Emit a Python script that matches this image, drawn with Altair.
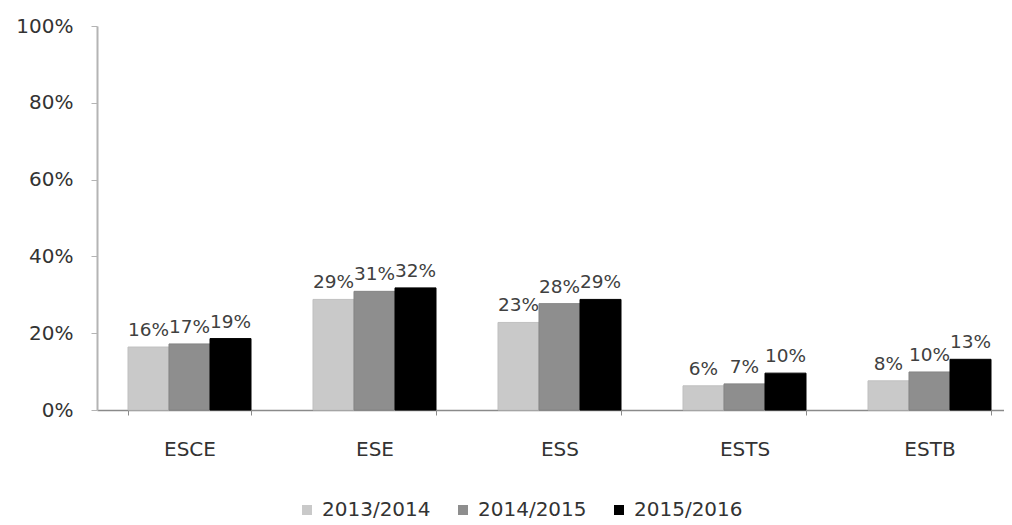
import altair as alt
import pandas as pd

groups = ["ESCE", "ESE", "ESS", "ESTS", "ESTB"]
years = ["2013/2014", "2014/2015", "2015/2016"]
v_2013 = [0.164, 0.288, 0.228, 0.063, 0.076]
v_2014 = [0.172, 0.309, 0.277, 0.068, 0.099]
v_2015 = [0.186, 0.318, 0.288, 0.096, 0.132]
colors = ["#c9c9c9", "#8e8e8e", "#000000"]

rows = []
for yr, vals in zip(years, [v_2013, v_2014, v_2015]):
    for g, v in zip(groups, vals):
        rows.append({"school": g, "year": yr, "value": v})
df = pd.DataFrame(rows)

FONT = "DejaVu Sans"

x = alt.X("school:N", sort=groups, title=None,
          scale=alt.Scale(range=[0, 925], paddingInner=0.335, paddingOuter=0.1675),
          axis=alt.Axis(labelAngle=0, tickBand="extent", tickSize=5, tickColor="#8a8a8a",
                        domainColor="#8a8a8a", domainWidth=1.5, labelPadding=24,
                        labelFontSize=20, labelFont=FONT, labelColor="#333333"))
y = alt.Y("value:Q", title=None,
          scale=alt.Scale(domain=[0, 1], nice=False),
          axis=alt.Axis(format=".0%", values=[0, 0.2, 0.4, 0.6, 0.8, 1.0], grid=False,
                        tickSize=6, tickColor="#b4b4b4", domainColor="#b4b4b4",
                        domainWidth=2, labelPadding=18, labelFontSize=20, labelFont=FONT,
                        labelColor="#333333"))
xo = alt.XOffset("year:N", sort=years, scale=alt.Scale(paddingInner=0, paddingOuter=0))

bars = alt.Chart(df).mark_bar(strokeWidth=1).encode(
    x=x, y=y, xOffset=xo,
    color=alt.Color("year:N", sort=years, scale=alt.Scale(domain=years, range=colors),
                    legend=alt.Legend(title=None, orient="none", direction="horizontal",
                                      legendX=200, legendY=474, symbolType="square",
                                      symbolSize=100, symbolStrokeWidth=0,
                                      labelFontSize=20, labelFont=FONT, labelColor="#333333",
                                      labelOffset=5, columnPadding=22)),
    stroke=alt.Stroke("year:N", sort=years,
                      scale=alt.Scale(domain=years, range=["#c0c0c0", "#858585", "#000000"]),
                      legend=None),
)

labels = alt.Chart(df).mark_text(baseline="bottom", dy=-7, fontSize=18.5, font=FONT,
                                 color="#404040").encode(
    x=alt.X("school:N", sort=groups), y="value:Q", xOffset=xo,
    text=alt.Text("value:Q", format=".0%"),
)

chart = (bars + labels).properties(
    width=907, height=384,
    autosize=alt.AutoSizeParams(type="none"),
    padding={"top": 18, "left": 89, "right": 0, "bottom": 113},
).configure(background="white").configure_view(stroke=None)

chart.save("out.html", embed_options={"renderer": "svg", "actions": False})
